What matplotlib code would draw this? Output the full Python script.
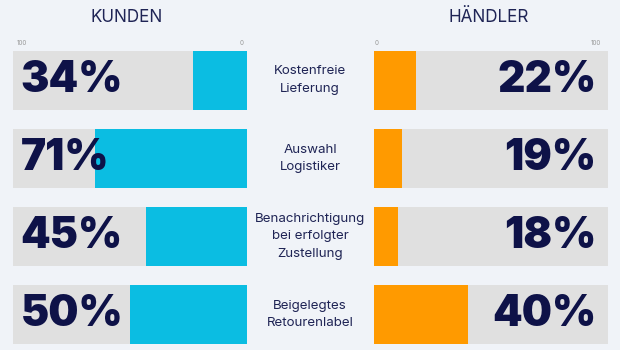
import matplotlib
matplotlib.use("Agg")
import matplotlib.pyplot as plt

# ---- data ----
categories = ["Kostenfreie\nLieferung", "Auswahl\nLogistiker",
              "Benachrichtigung\nbei erfolgter\nZustellung", "Beigelegtes\nRetourenlabel"]
kunden_labels = ["34%", "71%", "45%", "50%"]
haendler_labels = ["22%", "19%", "18%", "40%"]
# bar lengths as drawn in the picture (0-100 scale)
kunden_bars = [23, 65, 43, 50]
haendler_bars = [18, 12, 10, 40]
axis_max = 100
panel_titles = ["KUNDEN", "HÄNDLER"]

BG = "#f0f3f8"
GREY = "#e0e0e0"
CYAN = "#0bbde2"
ORANGE = "#ff9a00"
NAVY = "#0e1248"
TXT = "#1f2455"

plt.rcParams["font.family"] = ["Inter", "DejaVu Sans"]

fig = plt.figure(figsize=(6.2, 3.5), dpi=100, facecolor=BG)
W, H = 620, 350
bh = 0.756
ylo, yhi = 3 + bh / 2, -bh / 2

def add_ax(x0, x1):
    return fig.add_axes([x0 / W, 1 - 344 / H, (x1 - x0) / W, (344 - 50.7) / H])

axL = add_ax(12.7, 246.7)
axR = add_ax(374.3, 608.3)

ypos = list(range(len(categories)))
for ax in (axL, axR):
    ax.set_facecolor(BG)
    ax.barh(ypos, [axis_max] * len(ypos), height=bh, color=GREY, zorder=1)
    ax.set_ylim(ylo, yhi)
    for s in ax.spines.values():
        s.set_visible(False)
    ax.set_xticks([])
    ax.set_yticks([])

axL.barh(ypos, kunden_bars, height=bh, color=CYAN, zorder=2)
axL.set_xlim(axis_max, 0)
axR.barh(ypos, haendler_bars, height=bh, color=ORANGE, zorder=2)
axR.set_xlim(0, axis_max)

for y, lab in zip(ypos, kunden_labels):
    axL.text(0.034, y, lab, transform=axL.get_yaxis_transform(), ha="left", va="center",
             fontsize=30.5, fontweight=900, color=NAVY, zorder=3)
for y, lab in zip(ypos, haendler_labels):
    axR.text(0.95, y, lab, transform=axR.get_yaxis_transform(), ha="right", va="center",
             fontsize=30.5, fontweight=900, color=NAVY, zorder=3)

# small scale labels
tick_kw = dict(fontsize=4.5, color="#9a9a9a", va="center", ha="center")
ty = 1.0 + 7.5 / 293.3
axL.text(0.04, ty, "100", transform=axL.transAxes, **tick_kw)
axL.text(0.98, ty, "0", transform=axL.transAxes, **tick_kw)
axR.text(0.01, ty, "0", transform=axR.transAxes, **tick_kw)
axR.text(0.947, ty, "100", transform=axR.transAxes, **tick_kw)

# middle category labels
for y, cat in zip(ypos, categories):
    fy = axL.transData.transform((0, y))[1] / (fig.dpi * 3.5)
    fig.text(310 / W, fy, cat, ha="center", va="center", fontsize=9.6,
             color=TXT, linespacing=1.62)

fig.text(127 / W, 1 - 17 / H, panel_titles[0], ha="center", va="center",
         fontsize=12.3, color=TXT)
fig.text(489 / W, 1 - 17 / H, panel_titles[1], ha="center", va="center",
         fontsize=12.3, color=TXT)

fig.savefig("out.png", dpi=100, facecolor=BG)
